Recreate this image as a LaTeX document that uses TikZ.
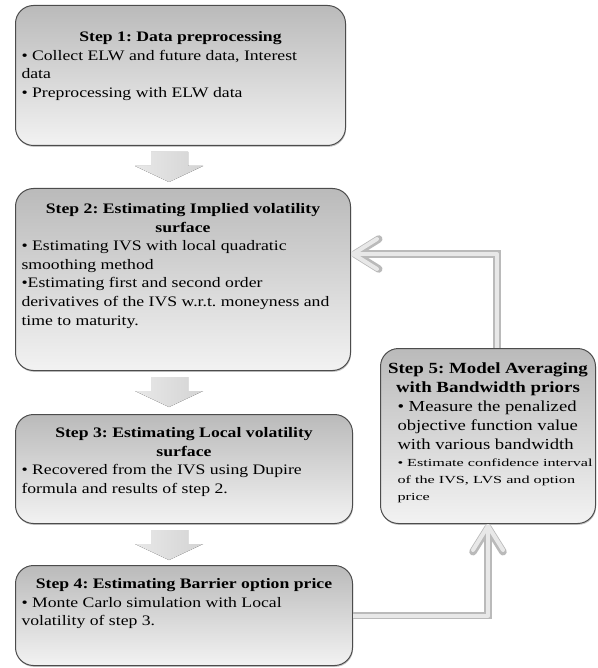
\documentclass[tikz,border=0pt]{standalone}
\usepackage{fontspec}
\setmainfont[FakeStretch=1.22]{Liberation Serif}
\newfontfamily\widefont[FakeStretch=1.5]{Liberation Serif}
\usetikzlibrary{shadows,arrows.meta}

\tikzset{
  stepbox/.style={draw=black!70, line width=1pt, rounded corners=18pt,
    top color=black!27, bottom color=black!5, anchor=north west,
    inner xsep=6pt, inner ysep=0pt,
    drop shadow={shadow xshift=0.6pt,shadow yshift=-1.4pt,opacity=0.45}},
  downarrow/.style={left color=black!9, right color=black!17},
  loopline/.style={draw=black!9, line width=4pt, line join=round,
    -{Straight Barb[length=24pt,width=30pt,round]},
    preaction={draw=black!27, line width=7.5pt}},
}

% width, height, top space, text
\newcommand{\boxtext}[4]{\parbox[t][#2][t]{#1}{\raggedright\frenchspacing\vspace*{#3}#4}}
\newcommand{\bodysize}{\fontsize{14.5}{18.6}\selectfont}

\begin{document}
\begin{tikzpicture}[x=1pt,y=-1pt]
\useasboundingbox (0,0) rectangle (597,668);

% the four steps on the left
\node[stepbox] (s1) at (15,5) {\boxtext{318pt}{140pt}{26pt}{\bodysize
  {\centering\bfseries Step 1: Data preprocessing\par}
  • Collect ELW and future data, Interest\\
  data\\
  • Preprocessing with ELW data}};

\node[stepbox] (s2) at (15,188) {\boxtext{323pt}{182pt}{15pt}{\bodysize
  {\centering\bfseries Step 2: Estimating Implied volatility\\ surface\par}
  • Estimating IVS with local quadratic\\
  smoothing method\\
  •Estimating first and second order\\
  derivatives of the IVS w.r.t. moneyness and\\
  time to maturity.}};

\node[stepbox] (s3) at (15,414) {\boxtext{325pt}{109pt}{13pt}{\bodysize
  {\centering\bfseries Step 3: Estimating Local volatility\\ surface\par}
  • Recovered from the IVS using Dupire\\
  formula and results of step 2.}};

\node[stepbox] (s4) at (15,565) {\boxtext{325pt}{100pt}{13pt}{\bodysize
  {\centering\bfseries Step 4: Estimating Barrier option price\par}
  • Monte Carlo simulation with Local\\
  volatility of step 3.}};

% step 5 on the right
\node[stepbox, inner xsep=5pt] (s5) at (380,348) {\boxtext{205pt}{175pt}{14pt}{%
  {\centering\fontsize{15.5}{19.5}\selectfont\bfseries Step 5: Model Averaging\\ with Bandwidth priors\par}
  \leftskip=12pt
  {\fontsize{15.3}{19}\selectfont \mbox{• Measure the penalized}\\
  \mbox{objective function value}\\
  \mbox{with various bandwidth}\par}
  {\widefont\fontsize{10.8}{17}\selectfont \mbox{• Estimate confidence interval}\\
  \mbox{of the IVS, LVS and option}\\
  price\par}}};

% block arrows
\foreach \y in {152,377,530}
  \fill[downarrow] (151,\y) -- (188,\y) -- (188,\y+14) -- (203,\y+14)
    -- (169,\y+30) -- (135,\y+14) -- (151,\y+14) -- cycle;

% feedback loop
\coordinate (turn) at (497,254);
\draw[loopline] (s4.east) -| (s5.south);
\draw[loopline] (s5.north -| turn) -- (turn) -- (s2.east |- turn);

\end{tikzpicture}
\end{document}
